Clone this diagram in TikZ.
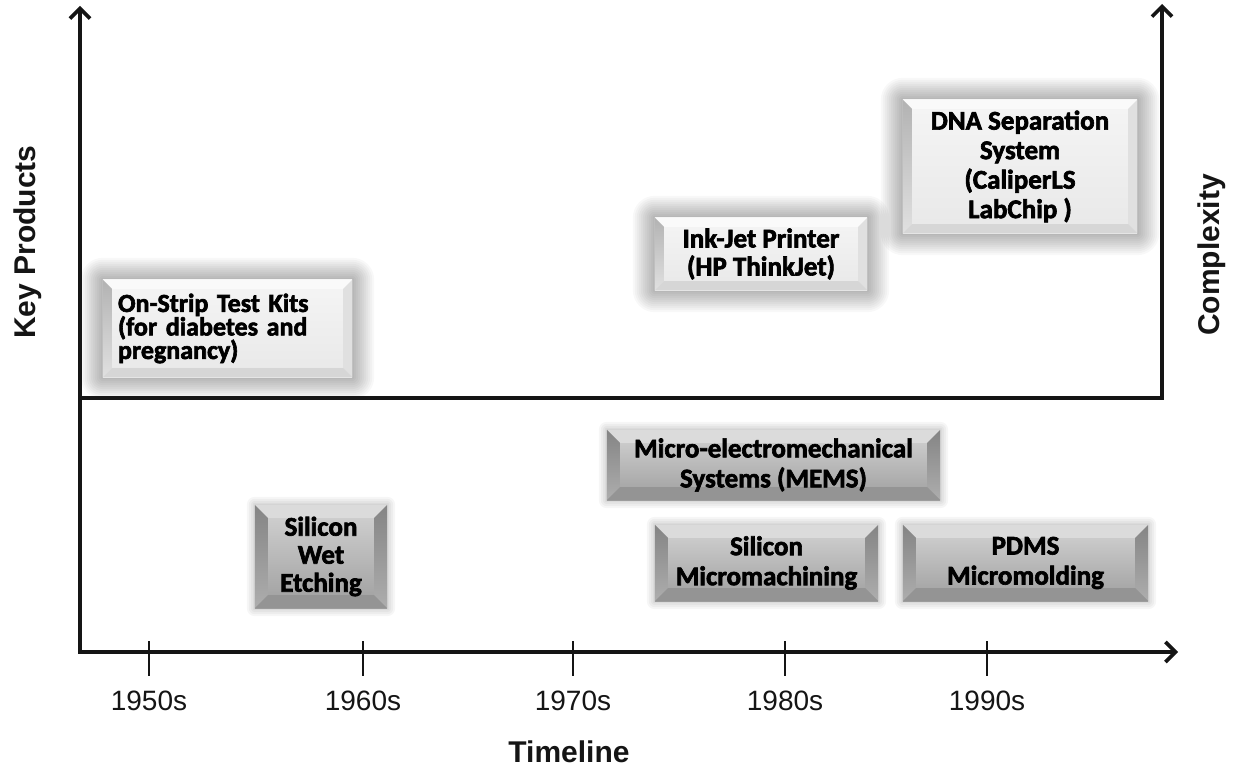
\documentclass[tikz,border=0pt]{standalone}
\usepackage{fontspec}
\setmainfont{Liberation Sans}
\newfontfamily\boxfont[FakeBold=2.4]{Carlito}
\usetikzlibrary{arrows.meta,calc}
\pgfdeclarelayer{canvas}
\pgfdeclarelayer{background}
\pgfsetlayers{canvas,background,main}

\definecolor{ink}{HTML}{151515}

\tikzset{
  axis/.style={line width=3.6pt, draw=ink, line join=miter},
  tickmark/.style={line width=2.6pt, draw=ink},
  barb/.style={-{Straight Barb[length=10pt,width=20pt]}},
  year/.style={font=\fontsize{28}{30}\selectfont, text=ink, inner sep=0pt},
  axlabel/.style={font=\fontsize{30}{32}\selectfont\bfseries, text=ink, inner sep=0pt},
  prod/.style={font=\boxfont\bfseries\fontsize{27}{30}\selectfont, align=center,
    inner sep=0pt, text=black},
}

% light raised panel with a soft halo (products)
\newcommand\lightpanel[1]{%
  \begin{pgfonlayer}{background}
    \foreach \g in {2,4,...,22}{%
      \fill[black,opacity=0.026,rounded corners=\g pt]
        ([shift={(-\g,-\g)}]#1.north west) rectangle ([shift={(\g,\g)}]#1.south east);}
    \shade[top color=black!4, bottom color=black!9]
      (#1.north west) rectangle (#1.south east);
    \fill[black!2] (#1.north west) -- (#1.north east)
      -- ([shift={(-9,9)}]#1.north east) -- ([shift={(9,9)}]#1.north west) -- cycle;
    \shade[top color=black!30, bottom color=black!12] (#1.north west)
      -- ([shift={(9,9)}]#1.north west) -- ([shift={(9,-9)}]#1.south west)
      -- (#1.south west) -- cycle;
    \fill[black!12] (#1.north east) -- ([shift={(-9,9)}]#1.north east)
      -- ([shift={(-9,-9)}]#1.south east) -- (#1.south east) -- cycle;
    \fill[black!16] (#1.south west) -- ([shift={(9,-9)}]#1.south west)
      -- ([shift={(-9,-9)}]#1.south east) -- (#1.south east) -- cycle;
  \end{pgfonlayer}}

% darker bevelled panel (technologies)
\newcommand\darkpanel[1]{%
  \begin{pgfonlayer}{background}
    \foreach \g in {2,4,6,8}{%
      \fill[black,opacity=0.035,rounded corners=\g pt]
        ([shift={(-\g,-\g)}]#1.north west) rectangle ([shift={(\g,\g)}]#1.south east);}
    \shade[top color=black!17, bottom color=black!38]
      (#1.north west) rectangle (#1.south east);
    \fill[black!14] (#1.north west) -- (#1.north east)
      -- ([shift={(-13,13)}]#1.north east) -- ([shift={(13,13)}]#1.north west) -- cycle;
    \shade[top color=black!48, bottom color=black!32] (#1.north west)
      -- ([shift={(13,13)}]#1.north west) -- ([shift={(13,-13)}]#1.south west)
      -- (#1.south west) -- cycle;
    \shade[top color=black!48, bottom color=black!32] (#1.north east)
      -- ([shift={(-13,13)}]#1.north east) -- ([shift={(-13,-13)}]#1.south east)
      -- (#1.south east) -- cycle;
    \fill[black!42] (#1.south west) -- ([shift={(13,-13)}]#1.south west)
      -- ([shift={(-13,-13)}]#1.south east) -- (#1.south east) -- cycle;
  \end{pgfonlayer}}

\begin{document}
\begin{tikzpicture}[x=1pt,y=-1pt]
\begin{pgfonlayer}{canvas}
  \fill[white] (0,0) rectangle (1233,770);
\end{pgfonlayer}
\useasboundingbox (0,0) rectangle (1233,770);

% axes
\coordinate (ytop) at (80,6);
\coordinate (orig) at (80,652);
\coordinate (xend) at (1178,652);
\coordinate (midl) at (80,398);
\coordinate (midr) at (1162,398);
\coordinate (rtop) at (1162,4);

\draw[axis, {Straight Barb[length=10pt,width=20pt]}-{Straight Barb[length=10pt,width=20pt]}]
  (ytop) -- (orig) -- (xend);
\draw[axis, barb] (midl) -- (midr) -- (rtop);

% decade ticks and labels
\foreach \x/\lab/\nm in {149/1950s/d50, 363/1960s/d60, 573/1970s/d70, 785/1980s/d80, 987/1990s/d90}{
  \coordinate (\nm a) at (\x,641);
  \coordinate (\nm b) at (\x,676);
  \draw[tickmark] (\nm a) -- (\nm b);
  \node[year] (\nm) at (\x,701) {\lab};
}

\node[axlabel] (timeline) at (569,752) {Timeline};
\node[axlabel, rotate=90] (keyprod) at (28,242) {Key Products};
\node[axlabel, rotate=90] (complex) at (1212,255) {Complexity};

% products
\node[prod, align=left, text width=219pt, minimum width=249pt, minimum height=97pt,
      font=\boxfont\bfseries\fontsize{26}{23.5}\selectfont] (onstrip) at (227.5,328.5)
  {On-Strip Test Kits\\(for diabetes and\\pregnancy)};
\lightpanel{onstrip}

\node[prod, minimum width=212pt, minimum height=72pt, font=\boxfont\bfseries\fontsize{27}{28}\selectfont]
  (inkjet) at (761,254) {Ink-Jet Printer\\(HP ThinkJet)};
\lightpanel{inkjet}

\node[prod, minimum width=234pt, minimum height=133pt, font=\boxfont\bfseries\fontsize{27}{29.5}\selectfont]
  (dna) at (1020,166.5) {DNA Separation\\System\\(CaliperLS\\LabChip )};
\lightpanel{dna}

% technologies
\node[prod, minimum width=132pt, minimum height=103pt, font=\boxfont\bfseries\fontsize{27}{28}\selectfont]
  (wet) at (321,556.5) {Silicon\\Wet\\Etching};
\darkpanel{wet}

\node[prod, minimum width=333pt, minimum height=70pt] (mems) at (773.5,465)
  {Micro-electromechanical\\Systems (MEMS)};
\darkpanel{mems}

\node[prod, minimum width=223pt, minimum height=76pt] (simicro) at (766.5,563)
  {Silicon\\Micromachining};
\darkpanel{simicro}

\node[prod, minimum width=245pt, minimum height=76pt] (pdms) at (1025.5,563)
  {PDMS\\Micromolding};
\darkpanel{pdms}

\end{tikzpicture}
\end{document}
